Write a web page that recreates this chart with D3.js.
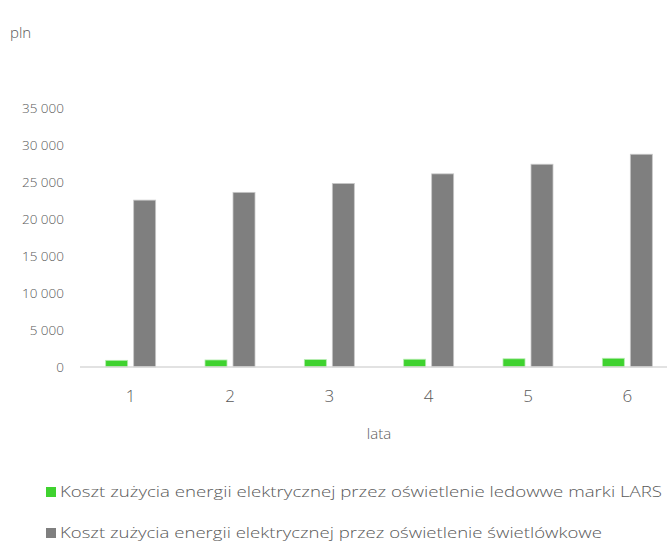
<!DOCTYPE html>
<html>
<head>
<meta charset="utf-8">
<script src="https://cdn.jsdelivr.net/npm/d3@7"></script>
<style>
  body { margin: 0; background: #fff; }
  text { font-family: "Open Sans", Lato, sans-serif; font-weight: 300; fill: #595959; }
</style>
</head>
<body>
<svg id="chart" width="667" height="542"></svg>
<script>
// ---------- data ----------
var years = ["1", "2", "3", "4", "5", "6"];
var ledCost = [900, 950, 1000, 1050, 1110, 1180];
var fluoCost = [22550, 23600, 24800, 26100, 27400, 28750];
var yTicks = [0, 5000, 10000, 15000, 20000, 25000, 30000, 35000];
var seriesNames = [
  "Koszt zużycia energii elektrycznej przez oświetlenie ledowwe marki LARS",
  "Koszt zużycia energii elektrycznej przez oświetlenie świetlówkowe"
];
var seriesColors = ["#3fd22f", "#7f7f7f"];

// ---------- scales ----------
var svg = d3.select("#chart");
var x = d3.scaleBand().domain(years).range([81, 677]);
var y = d3.scaleLinear().domain([0, 35000]).range([367, 108]);
var fmt = function (d) { return d3.format(",")(d).replace(/,/g, " "); };

// y axis labels (no line)
svg.append("g")
  .attr("transform", "translate(64,0)")
  .call(d3.axisLeft(y).tickValues(yTicks).tickSize(0).tickPadding(0).tickFormat(fmt))
  .call(function (g) { g.select(".domain").remove(); })
  .selectAll("text")
  .style("font-size", "13.5px").style("font-family", "'Open Sans', sans-serif").attr("fill", "#595959");

// bars
var bw = 22;
svg.append("g").selectAll("rect.led").data(years).join("rect")
  .attr("x", function (d) { return x(d) + x.bandwidth() / 2 - 3 - bw; })
  .attr("y", function (d, i) { return y(ledCost[i]); })
  .attr("width", bw)
  .attr("height", function (d, i) { return y(0) - y(ledCost[i]); })
  .attr("fill", seriesColors[0])
  .attr("stroke", "#b6ecb0").attr("stroke-width", 0.8);

svg.append("g").selectAll("rect.fl").data(years).join("rect")
  .attr("x", function (d) { return x(d) + x.bandwidth() / 2 + 3; })
  .attr("y", function (d, i) { return y(fluoCost[i]); })
  .attr("width", bw)
  .attr("height", function (d, i) { return y(0) - y(fluoCost[i]); })
  .attr("fill", seriesColors[1])
  .attr("stroke", "#c8c8c8").attr("stroke-width", 0.8);

// x axis
var xg = svg.append("g")
  .attr("transform", "translate(0,367)")
  .call(d3.axisBottom(x).tickSize(0).tickPadding(23));
xg.select(".domain").attr("stroke", "#d9d9d9").attr("stroke-width", 1.5).attr("d", "M80,0H667");
xg.selectAll("text")
  .style("font-size", "17px").style("font-family", "'Open Sans', sans-serif").attr("fill", "#595959");

// titles
svg.append("text").attr("x", 10).attr("y", 38).style("font-size", "15px").text("pln");
svg.append("text").attr("x", 379).attr("y", 439).attr("text-anchor", "middle")
  .style("font-size", "15px").text("lata");

// legend
var leg = svg.append("g").selectAll("g").data(seriesNames).join("g")
  .attr("transform", function (d, i) { return "translate(46," + (493 + i * 41) + ")"; });
leg.append("rect").attr("x", 0).attr("y", -6).attr("width", 10).attr("height", 10)
  .attr("fill", function (d, i) { return seriesColors[i]; });
leg.append("text").attr("x", 14).attr("y", 4).style("font-size", "14.5px")
  .attr("textLength", function (d, i) { return i === 0 ? 602 : 542; })
  .attr("lengthAdjust", "spacingAndGlyphs")
  .text(function (d) { return d; });
</script>
</body>
</html>
